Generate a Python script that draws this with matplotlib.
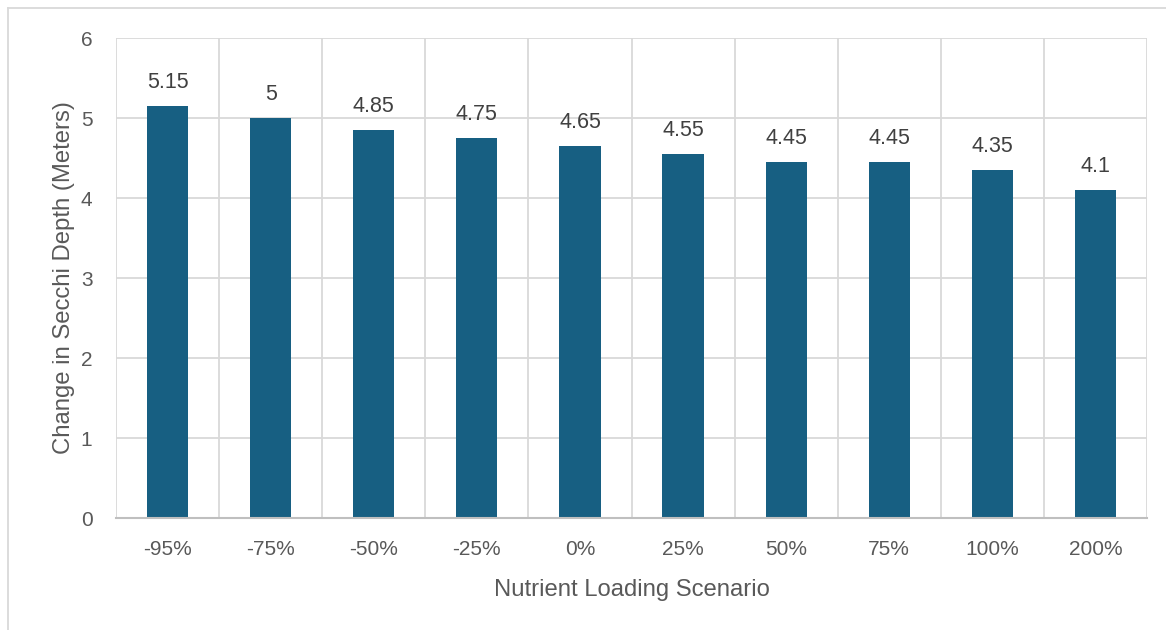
import matplotlib
matplotlib.use("Agg")
import matplotlib.pyplot as plt
from matplotlib.lines import Line2D
import numpy as np

categories = ["-95%", "-75%", "-50%", "-25%", "0%", "25%", "50%", "75%", "100%", "200%"]
values = [5.15, 5.0, 4.85, 4.75, 4.65, 4.55, 4.45, 4.45, 4.35, 4.1]
labels = ["5.15", "5", "4.85", "4.75", "4.65", "4.55", "4.45", "4.45", "4.35", "4.1"]

plt.rcParams['font.family'] = ['Liberation Sans', 'DejaVu Sans']

W, H = 1166, 630
fig = plt.figure(figsize=(W/100, H/100), dpi=100)
ax = fig.add_axes([116/W, (H-518)/H, (1147-116)/W, (518-38)/H])

x = np.arange(len(categories))
ax.bar(x, values, width=0.4, color="#175F82", zorder=3)
for xi, v, lab in zip(x, values, labels):
    ax.annotate(lab, (xi, v), xytext=(0, 9), textcoords="offset points",
                ha="center", va="bottom", fontsize=15.5, color="#404040")

ax.set_xlim(-0.5, len(categories) - 0.5)
ax.set_ylim(0, 6)
ax.set_yticks(range(0, 7))
ax.set_xticks(x)
ax.set_xticklabels(categories)
ax.set_xticks(np.arange(-0.5, len(categories), 1.0), minor=True)
ax.tick_params(axis="both", which="both", length=0, labelsize=15, colors="#595959")
ax.tick_params(axis="x", pad=16)
ax.tick_params(axis="y", pad=17)
ax.grid(axis="y", which="major", color="#D9D9D9", linewidth=1.3, zorder=0)
ax.grid(axis="x", which="minor", color="#D9D9D9", linewidth=1.3, zorder=0)
for s in ["top", "left", "right"]:
    ax.spines[s].set_visible(False)
ax.spines["bottom"].set_color("#BFBFBF")
ax.spines["bottom"].set_linewidth(1.5)
ax.spines["bottom"].set_zorder(4)

ax.set_xlabel("Nutrient Loading Scenario", fontsize=17.2, color="#595959", labelpad=14)
ax.set_ylabel("Change in Secchi Depth (Meters)", fontsize=17.2, color="#595959", labelpad=4)

# outer chart frame (top and left edges)
fig.add_artist(Line2D([8/W, 1], [1-8/H, 1-8/H], transform=fig.transFigure, color="#D9D9D9", linewidth=1.3))
fig.add_artist(Line2D([8/W, 8/W], [0, 1-8/H], transform=fig.transFigure, color="#D9D9D9", linewidth=1.3))

fig.savefig("out.png", dpi=100, facecolor="white")
